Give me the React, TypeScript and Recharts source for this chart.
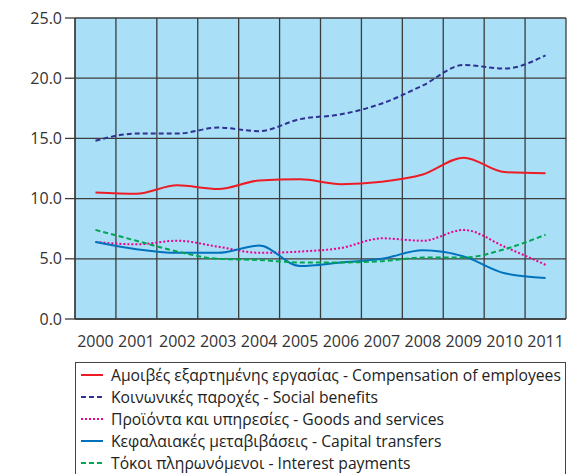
import React from 'react';
import { LineChart, Line, XAxis, YAxis, CartesianGrid, Legend } from 'recharts';

const years = ['2000', '2001', '2002', '2003', '2004', '2005', '2006', '2007', '2008', '2009', '2010', '2011'];
const compensation = [10.5, 10.4, 11.1, 10.8, 11.5, 11.6, 11.2, 11.4, 12.0, 13.4, 12.2, 12.1];
const socialBenefits = [14.8, 15.4, 15.4, 15.9, 15.6, 16.6, 17.0, 17.9, 19.4, 21.1, 20.8, 21.9];
const goodsServices = [6.4, 6.2, 6.5, 6.0, 5.5, 5.6, 5.9, 6.7, 6.5, 7.4, 6.0, 4.5];
const capitalTransfers = [6.4, 5.8, 5.5, 5.5, 6.1, 4.4, 4.7, 5.0, 5.7, 5.2, 3.8, 3.4];
const interestPayments = [7.4, 6.5, 5.6, 5.0, 4.9, 4.7, 4.7, 4.8, 5.1, 5.1, 5.8, 7.0];
const yTicks = [0, 5, 10, 15, 20, 25];

const seriesDefs = [
  { key: 'comp', name: 'Αμοιβές εξαρτημένης εργασίας - Compensation of employees', color: '#ed1c24', dash: undefined as string | undefined },
  { key: 'social', name: 'Κοινωνικές παροχές - Social benefits', color: '#2e3192', dash: '5 3' },
  { key: 'goods', name: 'Προϊόντα και υπηρεσίες - Goods and services', color: '#ec008c', dash: '2 2' },
  { key: 'capital', name: 'Κεφαλαιακές μεταβιβάσεις - Capital transfers', color: '#0072bc', dash: undefined },
  { key: 'interest', name: 'Τόκοι πληρωνόμενοι - Interest payments', color: '#00a651', dash: '5 3' },
];

// each year sits in the middle of its band; band edges are the grid lines
const data = years.map((y, i) => ({
  pos: i + 0.5,
  year: y,
  comp: compensation[i],
  social: socialBenefits[i],
  goods: goodsServices[i],
  capital: capitalTransfers[i],
  interest: interestPayments[i],
}));
const labelTicks = years.map((_, i) => i + 0.5);
const gridTicks = [0, ...years.map((_, i) => i + 1)];

const FONT = '"Open Sans", sans-serif';

const LegendBox = () => (
  <div
    style={{
      border: '1px solid #444',
      width: 491,
      height: 130,
      boxSizing: 'border-box',
      paddingTop: 1,
      fontFamily: FONT,
      fontSize: 15.7,
      color: '#222',
      background: '#fff',
    }}
  >
    {seriesDefs.map((s) => (
      <div key={s.key} style={{ display: 'flex', alignItems: 'center', height: 22 }}>
        <svg width={35} height={10} style={{ flex: 'none' }}>
          <line x1={5} x2={27} y1={5} y2={5} stroke={s.color} strokeWidth={2} strokeDasharray={s.dash} />
        </svg>
        <span style={{ whiteSpace: 'nowrap' }}>{s.name}</span>
      </div>
    ))}
  </div>
);

export default function App() {
  return (
    <div style={{ position: 'absolute', left: 0, top: 0, width: 573, height: 474, background: '#fff', overflow: 'hidden' }}>
      <LineChart width={573} height={474} data={data} margin={{ top: 18, right: 7, left: 0, bottom: 125 }}>
        <CartesianGrid xAxisId="grid" stroke="#3c3c3c" strokeWidth={1.3} fill="#aadff8" fillOpacity={1} />
        <XAxis
          dataKey="pos"
          type="number"
          domain={[0, years.length]}
          ticks={labelTicks}
          tickFormatter={(v: number) => years[Math.floor(v)]}
          tickLine={false}
          axisLine={{ stroke: '#3c3c3c', strokeWidth: 1.3 }}
          tickSize={0}
          tickMargin={17}
          height={30}
          interval={0}
          tick={{ fill: '#333', fontSize: 16, fontFamily: FONT }}
        />
        <XAxis xAxisId="grid" type="number" dataKey="pos" domain={[0, years.length]} ticks={gridTicks} allowDataOverflow hide />
        <YAxis
          domain={[0, 25]}
          ticks={yTicks}
          width={75}
          tickSize={10}
          tickMargin={3}
          tickFormatter={(v: number) => v.toFixed(1)}
          axisLine={{ stroke: '#3c3c3c', strokeWidth: 1.3 }}
          tickLine={{ stroke: '#3c3c3c', strokeWidth: 1.3 }}
          tick={{ fill: '#333', fontSize: 16, fontFamily: FONT }}
        />
        {seriesDefs.map((s) => (
          <Line
            key={s.key}
            type="monotone"
            dataKey={s.key}
            name={s.name}
            stroke={s.color}
            strokeWidth={2}
            strokeDasharray={s.dash}
            dot={false}
            activeDot={false}
            isAnimationActive={false}
          />
        ))}
        <Legend
          layout="vertical"
          align="center"
          verticalAlign="middle"
          content={() => <LegendBox />}
          wrapperStyle={{ left: 75, top: 362, width: 491, height: 130 }}
        />
      </LineChart>
    </div>
  );
}
